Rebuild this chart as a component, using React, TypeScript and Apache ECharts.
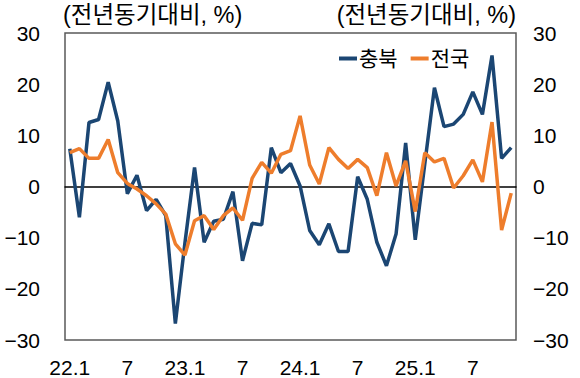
import React, { useEffect, useRef } from "react";
import * as echarts from "echarts";

const categories: string[] = [];
for (let y = 22; y <= 25; y++) {
  for (let m = 1; m <= 12; m++) {
    if (categories.length < 47) categories.push(`${y}.${m}`);
  }
}

const chungbuk = [
  7.4, -6.0, 12.5, 13.1, 20.4, 12.8, -1.4, 2.2, -4.7, -2.5, -5.7, -26.8,
  -11.0, 3.7, -10.9, -6.8, -6.4, -1.0, -14.5, -7.2, -7.5, 7.6, 2.7, 4.5,
  0.1, -8.6, -11.4, -7.3, -12.7, -12.7, 1.9, -2.5, -10.9, -15.5, -9.3, 8.5,
  -10.4, 4.5, 19.3, 11.7, 12.2, 14.1, 18.5, 14.1, 25.6, 5.5, 7.6,
];

const national = [
  6.6, 7.4, 5.5, 5.5, 9.2, 2.7, 0.6, -0.5, -1.8, -3.4, -5.4, -11.2,
  -13.4, -6.7, -5.7, -8.4, -5.7, -4.2, -6.6, 1.6, 4.7, 2.6, 6.3, 7.0,
  13.8, 4.2, 0.5, 7.6, 5.3, 3.5, 5.3, 3.7, -1.8, 6.6, 0.1, 5.0,
  -4.9, 6.6, 4.8, 5.5, -0.3, 2.1, 5.2, 0.9, 12.6, -8.5, -1.3,
];

const seriesNames = ["충북", "전국"];
const axisTitle = "(전년동기대비, %)";

const FONT = "'Liberation Sans', Arial, 'Noto Sans CJK KR', sans-serif";

export default function App() {
  const ref = useRef<HTMLDivElement>(null);
  useEffect(() => {
    if (!ref.current) return;
    const chart = echarts.init(ref.current, undefined, { renderer: "svg" });
    const yLabel = (v: number) => (v < 0 ? "\u2212" + Math.abs(v) : String(v));
    const yAxisCommon = {
      type: "value" as const,
      min: -30,
      max: 30,
      interval: 10,
      splitLine: { show: false },
      axisLine: { show: false },
      axisTick: { show: false },
    };
    chart.setOption({
      animation: false,
      backgroundColor: "#ffffff",
      textStyle: { fontFamily: FONT },
      grid: {
        left: 65,
        right: 64,
        top: 33,
        bottom: 37,
        show: true,
        borderColor: "#595959",
        borderWidth: 1.5,
        containLabel: false,
      },
      legend: {
        data: seriesNames,
        left: 334,
        top: 43,
        icon: "rect",
        itemWidth: 18,
        itemHeight: 4,
        itemGap: 13,
        textStyle: { fontSize: 21, color: "#000", fontFamily: FONT, padding: [0, 0, 0, -3] },
      },
      xAxis: [
        {
          type: "category",
          data: categories,
          boundaryGap: true,
          axisLine: { show: false, onZero: false },
          axisTick: { show: false },
          axisLabel: {
            interval: 5,
            margin: 17,
            fontSize: 21,
            color: "#000",
            fontFamily: FONT,
            formatter: (v: string) => (v.endsWith(".1") && !v.endsWith(".11") ? v : v.split(".")[1]),
          },
        },
        {
          type: "category",
          data: categories,
          boundaryGap: true,
          axisLine: { show: true, onZero: true, onZeroAxisIndex: 0, lineStyle: { color: "#000", width: 1.5 } },
          axisTick: { show: false },
          axisLabel: { show: false },
          position: "bottom",
        },
      ],
      yAxis: [
        {
          ...yAxisCommon,
          position: "left",
          axisLabel: { fontSize: 21, color: "#000", margin: 25, fontFamily: FONT, formatter: yLabel },
        },
        {
          ...yAxisCommon,
          position: "right",
          axisLabel: { fontSize: 21, color: "#000", margin: 17, fontFamily: FONT, formatter: yLabel },
        },
      ],
      graphic: [
        {
          type: "text",
          left: 63,
          top: 3,
          style: { text: axisTitle, fontSize: 23.5, fill: "#000", fontFamily: FONT },
        },
        {
          type: "text",
          right: 64,
          top: 3,
          style: { text: axisTitle, fontSize: 23.5, fill: "#000", fontFamily: FONT },
        },
      ],
      series: [
        {
          name: seriesNames[0],
          type: "line",
          data: chungbuk,
          xAxisIndex: 0,
          yAxisIndex: 0,
          symbol: "none",
          lineStyle: { color: "#1B4673", width: 3.5 },
          itemStyle: { color: "#1B4673" },
        },
        {
          name: seriesNames[1],
          type: "line",
          data: national,
          xAxisIndex: 0,
          yAxisIndex: 0,
          symbol: "none",
          lineStyle: { color: "#EE7D2C", width: 3.5 },
          itemStyle: { color: "#EE7D2C" },
        },
      ],
    });
    return () => chart.dispose();
  }, []);
  return (
    <div
      ref={ref}
      style={{ position: "fixed", left: 0, top: 0, width: 580, height: 378, background: "#fff" }}
    />
  );
}
